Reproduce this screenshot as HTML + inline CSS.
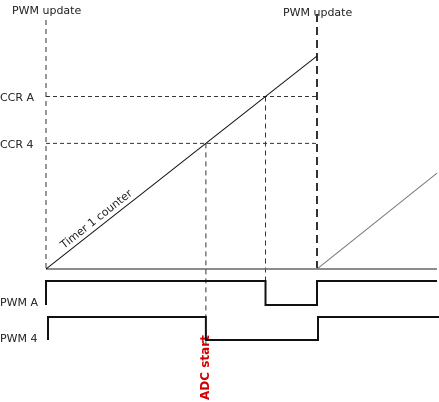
<!DOCTYPE html>
<html><head><meta charset="utf-8"><style>
html,body{margin:0;padding:0;background:#fff;}
svg{display:block;font-family:"DejaVu Sans","Liberation Sans",sans-serif;}
</style></head><body>
<svg id="c" width="439" height="402" viewBox="0 0 439 402">
<text x="12" y="14" font-size="11" fill="#222">PWM update</text>
<text x="283" y="16" font-size="11" fill="#222">PWM update</text>
<text x="0" y="101" font-size="11" fill="#222">CCR A</text>
<text x="0" y="148" font-size="11" fill="#222">CCR 4</text>
<text x="0" y="306" font-size="11" fill="#222">PWM A</text>
<text x="0" y="342" font-size="11" fill="#222">PWM 4</text>
<text transform="translate(209,400) rotate(-90)" font-size="12" font-weight="bold" fill="#d00000">ADC start</text>
<text transform="translate(64,249) rotate(-38.3)" font-size="11" fill="#222">Timer 1 counter</text>
<g id="g"></g>
</svg>
<script>
// period in time units, counter max and compare values
const periodStart = 0, periodEnd = 100;
const counterMax = 100;
const ccrA = 81;
const ccr4 = 59;
const nextRampEnd = 45; // counter value reached at right edge of next period
const X0 = 46, X1 = 317, Y0 = 269, Y1 = 56;
const xs = t => X0 + (t - periodStart) / (periodEnd - periodStart) * (X1 - X0);
const ys = v => Y0 - v / counterMax * (Y0 - Y1);
const tA = ccrA / counterMax * periodEnd, t4 = ccr4 / counterMax * periodEnd;
const g = document.getElementById('g');
function ln(x1,y1,x2,y2,st,w,dash,name){
  const l=document.createElementNS('http://www.w3.org/2000/svg','line');
  l.setAttribute('x1',x1);l.setAttribute('y1',y1);l.setAttribute('x2',x2);l.setAttribute('y2',y2);
  l.setAttribute('stroke',st);l.setAttribute('stroke-width',w);
  if(dash)l.setAttribute('stroke-dasharray',dash);
  
  
  g.appendChild(l);
}
function pl(pts,w,name){
  const p=document.createElementNS('http://www.w3.org/2000/svg','polyline');
  p.setAttribute('points',pts.map(a=>a.join(',')).join(' '));
  p.setAttribute('fill','none');p.setAttribute('stroke','#111');p.setAttribute('stroke-width',w);
  
  
  g.appendChild(p);
}
const xa=xs(tA), x4=xs(t4), xe=xs(periodEnd), xb=xs(periodStart);
ln(xb,20,xb,268,'#333',1,'5,4','period-start-marker');
ln(xe,14,xe,268,'#333',2,'8,5','period-end-marker');
ln(xb,ys(ccrA),xe,ys(ccrA),'#333',1,'4,3','ccr-a-level');
ln(xb,ys(ccr4),xe,ys(ccr4),'#333',1,'4,3','ccr-4-level');
ln(xa,ys(ccrA),xa,282,'#333',1,'5,4','ccr-a-crossing');
ln(x4,ys(ccr4),x4,345,'#333',1,'5,4','ccr-4-crossing');
ln(X0,Y0,437,Y0,'#666',1.5,null,'time-axis');
ln(xb,ys(0),xe,ys(counterMax),'#111',1,null,'timer-counter-ramp');
ln(xe,ys(0),437,ys(nextRampEnd),'#777',1,null,'timer-counter-next-ramp');
const hiA=281, loA=305, hi4=317, lo4=340;
pl([[xb,loA],[xb,hiA],[xa,hiA],[xa,loA],[xe,loA],[xe,hiA],[437,hiA]],2,'pwm-a-signal');
pl([[xb+2,lo4],[xb+2,hi4],[x4,hi4],[x4,lo4],[xe+1,lo4],[xe+1,hi4],[439,hi4]],2,'pwm-4-signal');
</script>
</body></html>
